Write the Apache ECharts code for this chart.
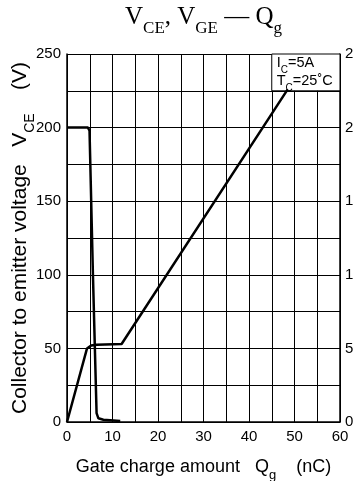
<!DOCTYPE html>
<html><head><meta charset="utf-8">
<script src="https://cdn.jsdelivr.net/npm/echarts@6/dist/echarts.min.js"></script>
<style>html,body{margin:0;padding:0;background:#fff}#c{width:353px;height:481px}</style>
</head><body><div id="c"></div>
<script>
// Data
var vceCurve = [[0,200],[4.6,200],[4.95,198],[5.7,100],[6.5,6],[6.9,2.5],[8,1.5],[11.7,0.7]]; // Qg (nC), VCE (V)
var vgeCurve = [[0,0],[4.4,5.0],[5.3,5.2],[6.5,5.25],[12,5.3],[48.5,22.6]]; // Qg (nC), VGE (V)
var xTicks = [0,10,20,30,40,50,60];
var vceTicks = [0,50,100,150,200,250];
var vgeTicks = [0,5,10,15,20,25];
var noteBox = [[45,225],[60,250]];
var notes = [
  {at:[46.1,243.9], text:'{n|I}{s|C}{n|=5A}'},
  {at:[46.1,231.6], text:'{n|T}{s|C}{n|=25˚C}'}
];

var chart = echarts.init(document.getElementById('c'));
var sans = 'Liberation Sans';
var xRich = {
  n:{fontFamily:sans,fontSize:18,color:'#000'},
  s:{fontFamily:sans,fontSize:13,color:'#000',verticalAlign:'bottom',padding:[0,0,-6,0]}
};
var yRich = {
  n:{fontFamily:sans,fontSize:21,color:'#000'},
  s:{fontFamily:sans,fontSize:14,color:'#000',verticalAlign:'bottom',padding:[0,0,-6,0]}
};
var noteRich = {
  n:{fontFamily:sans,fontSize:14.5,color:'#000'},
  s:{fontFamily:sans,fontSize:10,color:'#000',verticalAlign:'bottom',padding:[0,0,-5,0]}
};
chart.setOption({
  animation:false,
  backgroundColor:'#fff',
  title:{
    text:'{n|V}{s|CE}{n|, V}{s|GE}{n| — Q}{s|g}',
    left:120, top:0,
    textStyle:{fontWeight:'normal',rich:{
      n:{fontFamily:'Liberation Serif',fontSize:25,fontWeight:'normal',color:'#000'},
      s:{fontFamily:'Liberation Serif',fontSize:17,fontWeight:'normal',color:'#000',verticalAlign:'bottom',padding:[0,0,-7,0]}
    }}
  },
  grid:{left:67,right:13,top:54,bottom:59,containLabel:false,outerBoundsMode:'none'},
  xAxis:{
    type:'value',min:0,max:60,interval:5,
    axisLine:{lineStyle:{color:'#000',width:1.5}},
    axisTick:{show:false},
    splitLine:{show:true,lineStyle:{color:'#000',width:1}},
    axisLabel:{fontFamily:sans,fontSize:15,color:'#000',margin:7,
      formatter:function(v){return xTicks.indexOf(v)>=0?String(v):'';}},
    name:'{n|Gate charge amount   Q}{s|g}{n|    (nC)}',
    nameLocation:'middle',nameGap:36,nameMoveOverlap:false,
    nameTextStyle:{rich:xRich}
  },
  yAxis:[{
    type:'value',min:0,max:250,interval:25,position:'left',
    axisLine:{show:true,lineStyle:{color:'#000',width:1.5}},
    axisTick:{show:false},
    splitLine:{show:true,lineStyle:{color:'#000',width:1}},
    axisLabel:{fontFamily:sans,fontSize:15,color:'#000',margin:6,
      formatter:function(v){return vceTicks.indexOf(v)>=0?String(v):'';}},
    name:'{n|Collector to emitter voltage   V}{s|CE}{n|    (V)}',
    nameLocation:'middle',nameGap:36,nameRotate:90,nameMoveOverlap:false,
    nameTextStyle:{rich:yRich}
  },{
    type:'value',min:0,max:25,interval:2.5,position:'right',
    axisLine:{show:true,lineStyle:{color:'#000',width:1.5}},
    axisTick:{show:false},
    splitLine:{show:false},
    axisLabel:{fontFamily:sans,fontSize:15,color:'#000',margin:5,
      formatter:function(v){return vgeTicks.indexOf(v)>=0?String(v):'';}}
  }],
  series:[{
    type:'line',yAxisIndex:0,data:vceCurve,showSymbol:false,symbol:'none',
    lineStyle:{color:'#000',width:2.5},z:5,
    markArea:{silent:true,
      itemStyle:{color:'#fff',borderColor:'#000',borderWidth:1},
      label:{show:false},
      data:[[{coord:noteBox[0]},{coord:noteBox[1]}]]},
    markPoint:{silent:true,symbol:'circle',symbolSize:0,
      label:{show:true,position:'right',distance:0,rich:noteRich},
      data:notes.map(function(n){return {coord:n.at,label:{formatter:n.text}};})}
  },{
    type:'line',yAxisIndex:1,data:vgeCurve,showSymbol:false,symbol:'none',
    lineStyle:{color:'#000',width:2.5},z:6
  }]
});
</script></body></html>
